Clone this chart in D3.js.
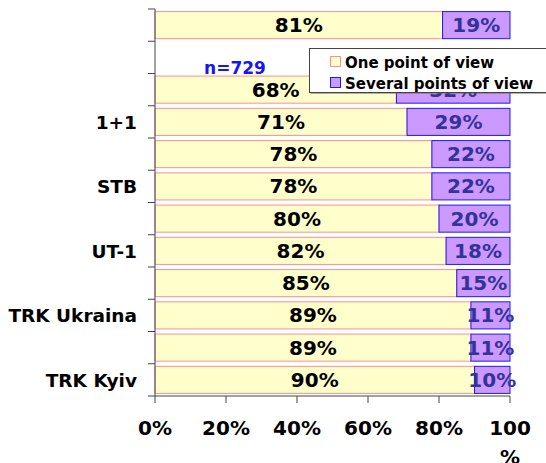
<!DOCTYPE html>
<html><head><meta charset="utf-8">
<script src="https://cdn.jsdelivr.net/npm/d3@7"></script>
<style>body{margin:0;background:#fff}svg{display:block}text{font-family:"DejaVu Sans",Verdana,sans-serif;font-weight:bold}</style>
</head><body><svg id="c" width="546" height="463"></svg>
<script>
// Rows from top to bottom; blank labels are rows whose names are not shown in the chart
const categories = ["", "", "", "1+1", "", "STB", "", "UT-1", "", "TRK Ukraina", "", "TRK Kyiv"];
const onePoint     = [81, null, 68, 71, 78, 78, 80, 82, 85, 89, 89, 90];
const severalPoint = [19, null, 32, 29, 22, 22, 20, 18, 15, 11, 11, 10];
const xTicks = [0, 20, 40, 60, 80, 100];
const seriesNames = ["One point of view", "Several points of view"];
const sampleNote = "n=729";

const svg = d3.select("#c");
const x = d3.scaleLinear().domain([0, 100]).range([155, 510]);
const y = d3.scaleBand().domain(d3.range(categories.length)).range([9, 396]).paddingInner(0.16).paddingOuter(0.08);
const step = y.step();
const bandTop = i => 9 + i * step;

const fills = ["#FFFFCC", "#CC99FF"], strokes = ["#FF8F8F", "#1A1AFF"], txt = ["#000", "#333399"];

const rows = categories.map((c, i) => ({i, a: onePoint[i], b: severalPoint[i]})).filter(d => d.a != null);

// bars
rows.forEach(d => {
  const segs = [[0, d.a], [d.a, d.a + d.b]];
  segs.forEach((s, k) => {
    svg.append("rect").attr("x", x(s[0])).attr("y", y(d.i))
      .attr("width", x(s[1]) - x(s[0])).attr("height", y.bandwidth())
      .attr("fill", fills[k]).attr("stroke", strokes[k]).attr("stroke-width", 1);
  });
});
// labels
rows.forEach(d => {
  const segs = [[0, d.a, d.a], [d.a, d.a + d.b, d.b]];
  segs.forEach((s, k) => {
    svg.append("text").attr("x", (x(s[0]) + x(s[1])) / 2).attr("y", y(d.i) + y.bandwidth() / 2 + 7)
      .attr("text-anchor", "middle").attr("font-size", 20).attr("fill", txt[k]).text(s[2] + "%");
  });
});

// y axis
svg.append("line").attr("x1", 155).attr("x2", 155).attr("y1", 9).attr("y2", 396).attr("stroke", "#444");
for (let i = 0; i <= categories.length; i++) {
  svg.append("line").attr("x1", 148).attr("x2", 155).attr("y1", bandTop(i)).attr("y2", bandTop(i)).attr("stroke", "#444");
}
categories.forEach((c, i) => {
  if (!c) return;
  svg.append("text").attr("x", 137).attr("y", y(i) + y.bandwidth() / 2 + 7)
    .attr("text-anchor", "end").attr("font-size", 18.5).attr("fill", "#000").text(c);
});

// x axis
svg.append("line").attr("x1", 155).attr("x2", 510).attr("y1", 396).attr("y2", 396).attr("stroke", "#444");
xTicks.forEach(t => {
  svg.append("line").attr("x1", x(t)).attr("x2", x(t)).attr("y1", 396).attr("y2", 403).attr("stroke", "#444");
  const tx = svg.append("text").attr("x", x(t)).attr("y", 435).attr("text-anchor", "middle").attr("font-size", 20).attr("fill", "#000");
  if (t === 100) {
    tx.text("100");
    svg.append("text").attr("x", x(t)).attr("y", 464).attr("text-anchor", "middle").attr("font-size", 20).attr("fill", "#000").text("%");
  } else tx.text(t + "%");
});

// note
svg.append("text").attr("x", 235).attr("y", 74).attr("text-anchor", "middle").attr("font-size", 17).attr("fill", "#1515F5").text(sampleNote);

// legend
const lg = svg.append("g");
lg.append("rect").attr("x", 310.5).attr("y", 49.5).attr("width", 240).attr("height", 44).attr("fill", "#666");
lg.append("rect").attr("x", 309.5).attr("y", 48.5).attr("width", 240).attr("height", 44).attr("fill", "#fff").attr("stroke", "#444");
seriesNames.forEach((n, k) => {
  const cy = 62 + k * 21;
  lg.append("rect").attr("x", 330.5).attr("y", cy - 5.5).attr("width", 10).attr("height", 10)
    .attr("fill", fills[k]).attr("stroke", strokes[k]);
  lg.append("text").attr("x", 345).attr("y", cy + 5.5).attr("font-size", 15).attr("fill", "#000").text(n);
});
</script></body></html>
